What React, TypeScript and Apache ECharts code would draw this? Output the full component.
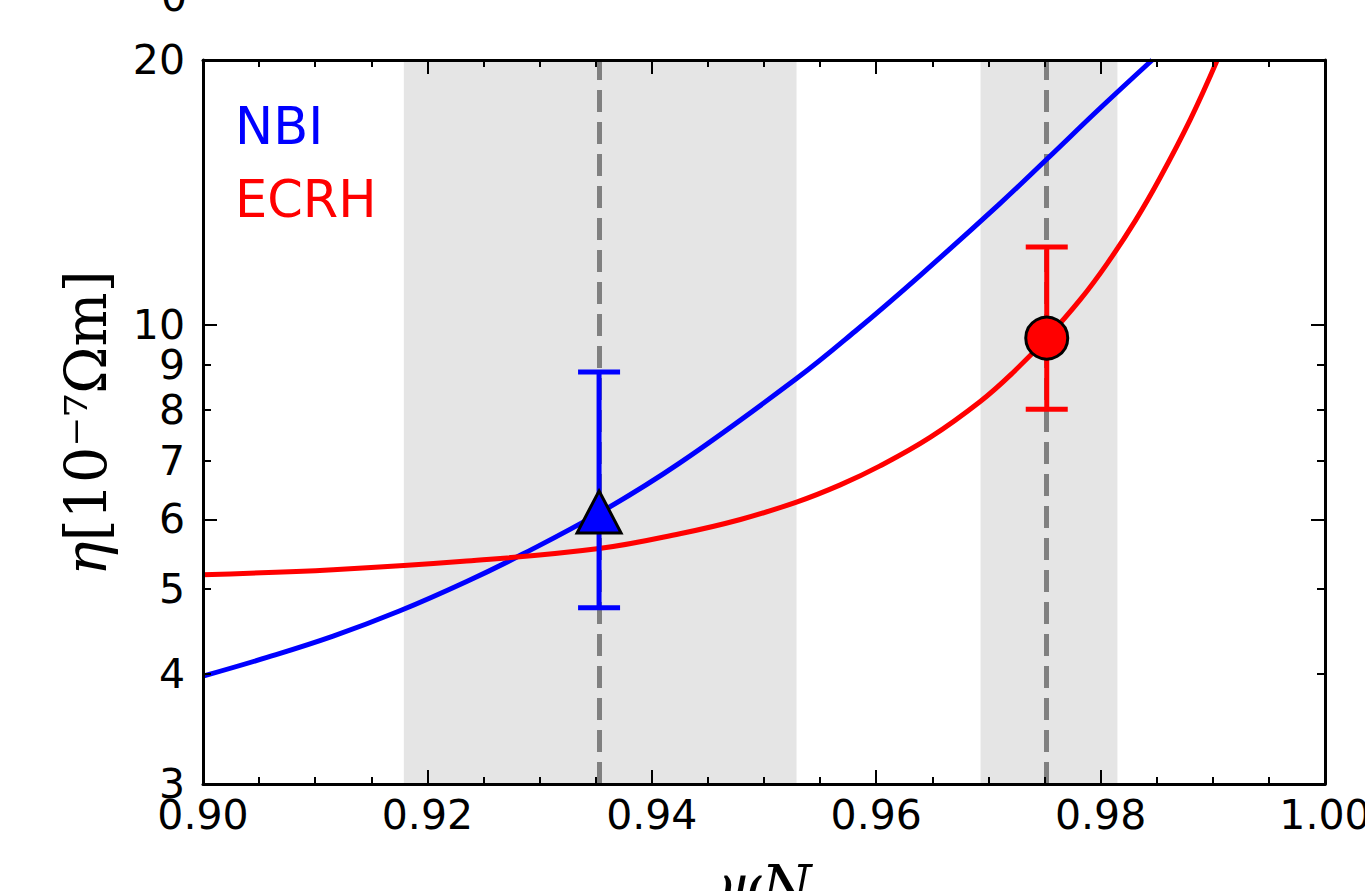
import React, { useEffect, useRef } from "react";
import * as echarts from "echarts";

// ---- data ----
const nbiX = [0.9, 0.9057, 0.9116, 0.9175, 0.9235, 0.9285, 0.9353, 0.9425, 0.9529, 0.9581, 0.9639, 0.971, 0.9752, 0.9799, 0.9846];
const nbiY = [3.98, 4.18, 4.42, 4.72, 5.1, 5.48, 6.1, 6.96, 8.68, 9.82, 11.37, 13.72, 15.42, 17.6, 20.0];
const ecrhX = [0.9, 0.9116, 0.9235, 0.9353, 0.9425, 0.9479, 0.9529, 0.9568, 0.9603, 0.9648, 0.9693, 0.9722, 0.9752, 0.9782, 0.9806, 0.9831, 0.9853, 0.988, 0.9904];
const ecrhY = [5.19, 5.26, 5.38, 5.56, 5.78, 6.0, 6.28, 6.57, 6.9, 7.44, 8.18, 8.82, 9.65, 10.68, 11.74, 13.13, 14.69, 17.12, 20.0];

const pointNames = ["NBI", "ECRH"];
const pointX = [0.9353, 0.9752];
const pointY = [6.12, 9.65];
const errLow = [4.76, 8.01];
const errHigh = [8.83, 12.25];
const pointColors = ["#0000ff", "#ff0000"];

const shadedRanges = [
  [0.9179, 0.9529],
  [0.9693, 0.9815],
];
const dashedX = [0.9353, 0.9752];

const xMin = 0.9;
const xMax = 1.0;
const xInterval = 0.02;
const yMin = 3;
const yMax = 20;
const yLabelValues = [3, 4, 5, 6, 7, 8, 9, 10, 20];
const yLongTicks = [6, 10, 20];
const yShortTicks = [3, 4, 5, 7, 8, 9];

const BLACK = "#000000";
const TICK_FONT = "DejaVu Sans";

function makeYAxis(position: string, ticks: number[], len: number, showLine: boolean, showLabel: boolean) {
  return {
    type: "log",
    logBase: 10,
    min: yMin,
    max: yMax,
    position,
    z: 20,
    axisLine: { show: showLine, onZero: false, lineStyle: { color: BLACK, width: 3 } },
    axisTick: { show: true, inside: true, length: len, customValues: ticks, lineStyle: { color: BLACK, width: 2 } },
    axisLabel: showLabel
      ? {
          show: true,
          customValues: yLabelValues,
          formatter: (v: number) => String(Math.round(v)),
          fontSize: 41,
          color: BLACK,
          fontFamily: TICK_FONT,
          margin: 18,
        }
      : { show: false },
    splitLine: { show: false },
    minorTick: { show: false },
    minorSplitLine: { show: false },
  };
}

function makeXAxis(position: string, showLabel: boolean) {
  return {
    type: "value",
    min: xMin,
    max: xMax,
    interval: xInterval,
    position,
    z: 20,
    axisLine: { show: true, onZero: false, lineStyle: { color: BLACK, width: 3 } },
    axisTick: { show: true, inside: true, length: 14, lineStyle: { color: BLACK, width: 2 } },
    minorTick: { show: true, splitNumber: 4, length: 7, lineStyle: { color: BLACK, width: 2 } },
    axisLabel: showLabel
      ? {
          show: true,
          formatter: (v: number) => v.toFixed(2),
          fontSize: 41,
          color: BLACK,
          fontFamily: TICK_FONT,
          margin: 10,
          showMinLabel: true,
          showMaxLabel: true,
        }
      : { show: false },
    splitLine: { show: false },
    minorSplitLine: { show: false },
  };
}

export default function App() {
  const ref = useRef<HTMLDivElement>(null);

  useEffect(() => {
    if (!ref.current) return;
    const chart = echarts.init(ref.current, null, { renderer: "svg" });

    const errData = pointX.map((x, i) => [x, errLow[i], errHigh[i], i]);

    const option: any = {
      animation: false,
      backgroundColor: "#ffffff",
      grid: {
        left: 203,
        top: 60,
        right: 40,
        bottom: 107,
        outerBoundsMode: "none",
        containLabel: false,
      },
      xAxis: [makeXAxis("bottom", true), makeXAxis("top", false)],
      yAxis: [
        makeYAxis("left", yLongTicks, 14, true, true),
        makeYAxis("left", yShortTicks, 8, false, false),
        makeYAxis("right", yLongTicks, 14, true, false),
        makeYAxis("right", yShortTicks, 8, false, false),
      ],
      series: [
        {
          type: "line",
          name: "marks",
          data: [],
          xAxisIndex: 0,
          yAxisIndex: 0,
          z: 1,
          silent: true,
          markArea: {
            silent: true,
            z: 1,
            itemStyle: { color: "#e5e5e5", opacity: 1 },
            label: { show: false },
            data: shadedRanges.map((r) => [{ xAxis: r[0] }, { xAxis: r[1] }]),
          },
          markLine: {
            silent: true,
            z: 2,
            precision: 5,
            symbol: "none",
            label: { show: false },
            lineStyle: { color: "#808080", width: 5, type: [22, 10] },
            data: dashedX.map((x) => ({ xAxis: x })),
          },
        },
        {
          type: "line",
          name: "NBI curve",
          data: nbiX.map((x, i) => [x, nbiY[i]]),
          xAxisIndex: 0,
          yAxisIndex: 0,
          showSymbol: false,
          symbol: "none",
          smooth: 0.4,
          z: 6,
          lineStyle: { color: pointColors[0], width: 5 },
          itemStyle: { color: pointColors[0] },
        },
        {
          type: "line",
          name: "ECRH curve",
          data: ecrhX.map((x, i) => [x, ecrhY[i]]),
          xAxisIndex: 0,
          yAxisIndex: 0,
          showSymbol: false,
          symbol: "none",
          smooth: 0.4,
          z: 6,
          lineStyle: { color: pointColors[1], width: 5 },
          itemStyle: { color: pointColors[1] },
        },
        {
          type: "custom",
          name: "errors",
          xAxisIndex: 0,
          yAxisIndex: 0,
          z: 7,
          silent: true,
          encode: { x: 0, y: [1, 2] },
          data: errData,
          renderItem: (params: any, api: any) => {
            const x = api.value(0);
            const lo = api.value(1);
            const hi = api.value(2);
            const color = pointColors[api.value(3)];
            const pLo = api.coord([x, lo]);
            const pHi = api.coord([x, hi]);
            const half = 21;
            const st = { stroke: color, lineWidth: 5 };
            return {
              type: "group",
              children: [
                { type: "line", shape: { x1: pLo[0], y1: pLo[1], x2: pHi[0], y2: pHi[1] }, style: st },
                { type: "line", shape: { x1: pLo[0] - half, y1: pLo[1], x2: pLo[0] + half, y2: pLo[1] }, style: st },
                { type: "line", shape: { x1: pHi[0] - half, y1: pHi[1], x2: pHi[0] + half, y2: pHi[1] }, style: st },
              ],
            };
          },
        },
        {
          type: "scatter",
          name: pointNames[0],
          data: [[pointX[0], pointY[0]]],
          symbol: "triangle",
          symbolSize: [44, 42],
          z: 8,
          itemStyle: { color: pointColors[0], borderColor: BLACK, borderWidth: 3, opacity: 1 },
        },
        {
          type: "scatter",
          name: pointNames[1],
          data: [[pointX[1], pointY[1]]],
          symbol: "circle",
          symbolSize: 42,
          z: 8,
          itemStyle: { color: pointColors[1], borderColor: BLACK, borderWidth: 3, opacity: 1 },
        },
      ],
      graphic: [
        {
          type: "text",
          x: 235,
          y: 126,
          z: 30,
          style: { text: "NBI", fill: pointColors[0], font: "51px 'DejaVu Sans'", align: "left", verticalAlign: "middle", textAlign: "left", textVerticalAlign: "middle" },
        },
        {
          type: "text",
          x: 235,
          y: 199,
          z: 30,
          style: { text: "ECRH", fill: pointColors[1], font: "51px 'DejaVu Sans'", align: "left", verticalAlign: "middle", textAlign: "left", textVerticalAlign: "middle" },
        },
        {
          type: "text",
          x: 86,
          y: 423,
          rotation: Math.PI / 2,
          z: 30,
          style: {
            text: "{i|η}{r|[10⁻⁷Ωm]}",
            align: "center",
            verticalAlign: "middle",
            textAlign: "center",
            textVerticalAlign: "middle",
            rich: {
              i: { fontFamily: "DejaVu Serif", fontStyle: "italic", fontSize: 57, fill: BLACK, color: BLACK },
              r: { fontFamily: "DejaVu Serif", fontSize: 57, fill: BLACK, color: BLACK },
            },
          },
        },
        {
          type: "text",
          x: 764,
          y: 857,
          z: 30,
          style: { text: "ψN", fill: BLACK, font: "italic 57px 'DejaVu Serif'", align: "center", verticalAlign: "top", textAlign: "center", textVerticalAlign: "top" },
        },
        {
          type: "text",
          x: 174,
          y: -3,
          z: 30,
          style: { text: "0", fill: BLACK, font: "41px 'DejaVu Sans'", align: "center", verticalAlign: "middle", textAlign: "center", textVerticalAlign: "middle" },
        },
      ],
    };

    chart.setOption(option);
    return () => {
      chart.dispose();
    };
  }, []);

  return <div ref={ref} style={{ position: "fixed", left: 0, top: 0, width: 1365, height: 891, background: "#fff" }} />;
}
